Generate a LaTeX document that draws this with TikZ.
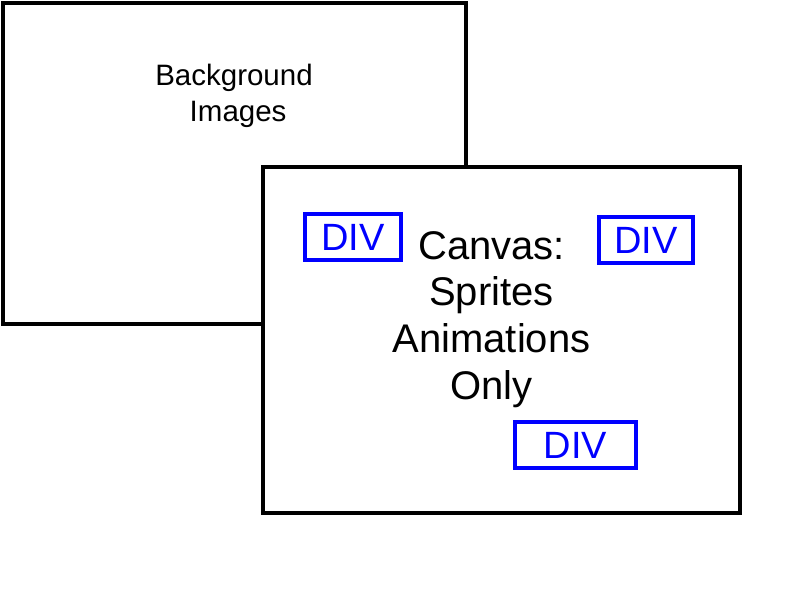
\documentclass[tikz,border=0pt]{standalone}
\usepackage{fontspec}
\setmainfont{Liberation Sans}
\usetikzlibrary{positioning}
\tikzstyle{layer}=[draw, line width=4pt, fill=white, inner sep=0pt]
\tikzstyle{divbox}=[draw=blue, line width=4pt, text=blue, inner sep=0pt, minimum height=46pt, font=\fontsize{38}{38}\selectfont]
\tikzstyle{caption}=[inner sep=0pt, align=center]
\newcommand{\drawDIV}[5]{
\node[divbox, minimum width=#4] (#1) at (#2,#3) {DIV\hspace{#5}};
}

\begin{document}
\begin{tikzpicture}[x=1pt,y=-1pt]
	\useasboundingbox (0,0) rectangle (800,600);
	\begin{scope}
	% background layer
	\node[layer, minimum width=462.5pt, minimum height=321pt] (bg) at (234.25,163.5) {};
	\node[caption, font=\fontsize{29.5}{35.7}\selectfont] (bgtext) at (234,96.2) {Background\\ \hspace{8.2pt}Images};
	% canvas layer on top
	\node[layer, minimum width=477pt, minimum height=345.5pt] (canvas) at (501,339.75) {};
	\node[caption, font=\fontsize{40}{46.7}\selectfont] (canvastext) at (491.5,319.5) {Canvas:\\Sprites\\Animations\\Only};
	\drawDIV{divA}{353}{237}{96pt}{0pt}
	\drawDIV{divB}{646}{240.25}{94pt}{0pt}
	\drawDIV{divC}{575.5}{445}{121pt}{7pt}
	\end{scope}
\end{tikzpicture}
\end{document}
